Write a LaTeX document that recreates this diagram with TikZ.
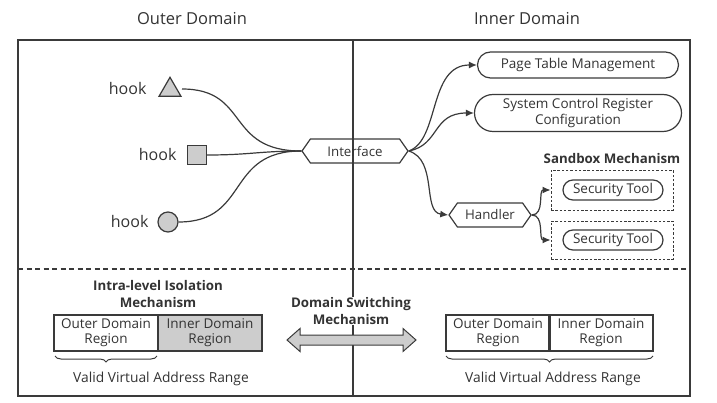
\documentclass[tikz,border=0pt]{standalone}
\usepackage{fontspec}
\setmainfont{Open Sans}
\usetikzlibrary{shapes.symbols,shapes.misc,shapes.geometric,decorations.pathreplacing,arrows.meta}
\definecolor{ln}{HTML}{3A3A3A}
\definecolor{gf}{HTML}{CDCDCD}
\definecolor{tx}{HTML}{333333}
\begin{document}
\begin{tikzpicture}[x=1pt,y=-1pt,
  every node/.style={text=tx},
  line/.style={draw=ln,line width=1.2pt},
  hexa/.style={line,shape=signal,signal to=west and east,signal pointer angle=110,inner sep=1pt,font=\fontsize{13.3}{15}\selectfont},
  pill/.style={line,rounded rectangle,inner sep=1pt,align=center,font=\fontsize{13.5}{16.5}\selectfont},
  dbox/.style={draw=ln,line width=0.9pt,dash pattern=on 2.5pt off 1.8pt},
  conn/.style={line,-{Latex[length=8pt,width=7pt]}},
  lbl/.style={font=\fontsize{16}{18}\selectfont},
  blbl/.style={font=\bfseries\fontsize{13.3}{16.5}\selectfont,align=center},
  region/.style={line,minimum width=104pt,minimum height=36pt,inner sep=0pt,align=center,font=\fontsize{13.5}{15}\selectfont},
  vlbl/.style={font=\fontsize{13.8}{16}\selectfont},
  brc/.style={draw=ln,line width=1pt,decorate,decoration={brace,mirror,amplitude=6pt}}
]
\useasboundingbox (0,0) rectangle (717,403);
% titles
\node[font=\fontsize{16.5}{18}\selectfont] (tout) at (192,19) {Outer Domain};
\node[font=\fontsize{16.5}{18}\selectfont] (tin) at (527,19) {Inner Domain};
% frame
\draw[line] (18,40) rectangle (690,396);
\coordinate (vt) at (353,40);
\coordinate (vb) at (353,396);
\draw[line] (vt) -- (vb);
\coordinate (hl) at (18,269);
\coordinate (hr) at (690,269);
\draw[draw=ln,line width=1.2pt,dash pattern=on 5pt off 3.5pt] (hl) -- (hr);
% hooks
\node[line,fill=gf,isosceles triangle,shape border rotate=90,isosceles triangle apex angle=60,minimum height=18pt,minimum width=22pt,inner sep=0pt] (tri) at (170,90) {};
\node[lbl,anchor=east] (h1) at (150,89) {hook};
\node[line,fill=gf,minimum size=19pt,inner sep=0pt] (sq) at (197,155) {};
\node[lbl,anchor=east] (h2) at (180,155) {hook};
\node[line,fill=gf,circle,minimum size=20pt,inner sep=0pt] (ci) at (168,222) {};
\node[lbl,anchor=east] (h3) at (152,222) {hook};
% interface
\node[hexa,minimum width=106pt,minimum height=24pt] (if) at (355,151) {Interface};
\coordinate (ifw) at (if.west);
\coordinate (tre) at (182,89);
\draw[line] (tre) .. controls (250,89) and (225,151) .. (ifw);
\draw[line] (sq.east) .. controls (250,155) and (260,151) .. (ifw);
\draw[line] (ci.east) .. controls (250,222) and (225,151) .. (ifw);
% inner nodes
\node[pill,minimum width=203pt,minimum height=26pt] (ptm) at (578,65) {Page Table Management};
\node[pill,minimum width=209pt,minimum height=37pt] (scr) at (578,113) {System Control Register\\Configuration};
\node[hexa,minimum width=82pt,minimum height=24pt] (hd) at (490,215) {Handler};
\draw[conn] (if.east) .. controls (440,140) and (428,65) .. (ptm.west);
\draw[conn] (if.east) .. controls (440,145) and (432,113) .. (scr.west);
\draw[conn] (if.east) .. controls (438,160) and (422,212) .. (hd.west);
% sandbox
\node[blbl] (sbl) at (612,159) {Sandbox Mechanism};
\node[dbox,minimum width=122pt,minimum height=40pt] (sb1) at (612,190) {};
\node[dbox,minimum width=122pt,minimum height=38pt] (sb2) at (612,240) {};
\node[pill,minimum width=100pt,minimum height=20pt,inner sep=0pt] (st1) at (613,190) {Security Tool};
\node[pill,minimum width=100pt,minimum height=20pt,inner sep=0pt] (st2) at (613,240) {Security Tool};
\draw[conn] (hd.east) .. controls (545,215) and (538,190) .. (sb1.west);
\draw[conn] (hd.east) .. controls (545,215) and (538,240) .. (sb2.west);
% bottom left
\node[blbl] (ilm) at (158,294) {Intra-level Isolation\\Mechanism};
\node[region] (lo) at (106,333) {Outer Domain\\Region};
\node[region,fill=gf] (li) at (210,333) {Inner Domain\\Region};
\draw[brc] (55,356) -- (157,356);
\node[vlbl] (lv) at (161,379) {Valid Virtual Address Range};
% domain switching
\node[blbl,fill=white,inner sep=1pt] (dsm) at (351,311) {Domain Switching\\Mechanism};
\draw[line,fill=gf,line width=1pt] (287,340) -- (300,328.5) -- (300,335) -- (403,335) -- (403,328.5) -- (416,340) -- (403,351.5) -- (403,345) -- (300,345) -- (300,351.5) -- cycle;
% bottom right
\node[region] (ro) at (498,333) {Outer Domain\\Region};
\node[region] (ri) at (601,333) {Inner Domain\\Region};
\draw[brc] (446,356) -- (653,356);
\node[vlbl] (rv) at (553,379) {Valid Virtual Address Range};
\end{tikzpicture}
\end{document}
